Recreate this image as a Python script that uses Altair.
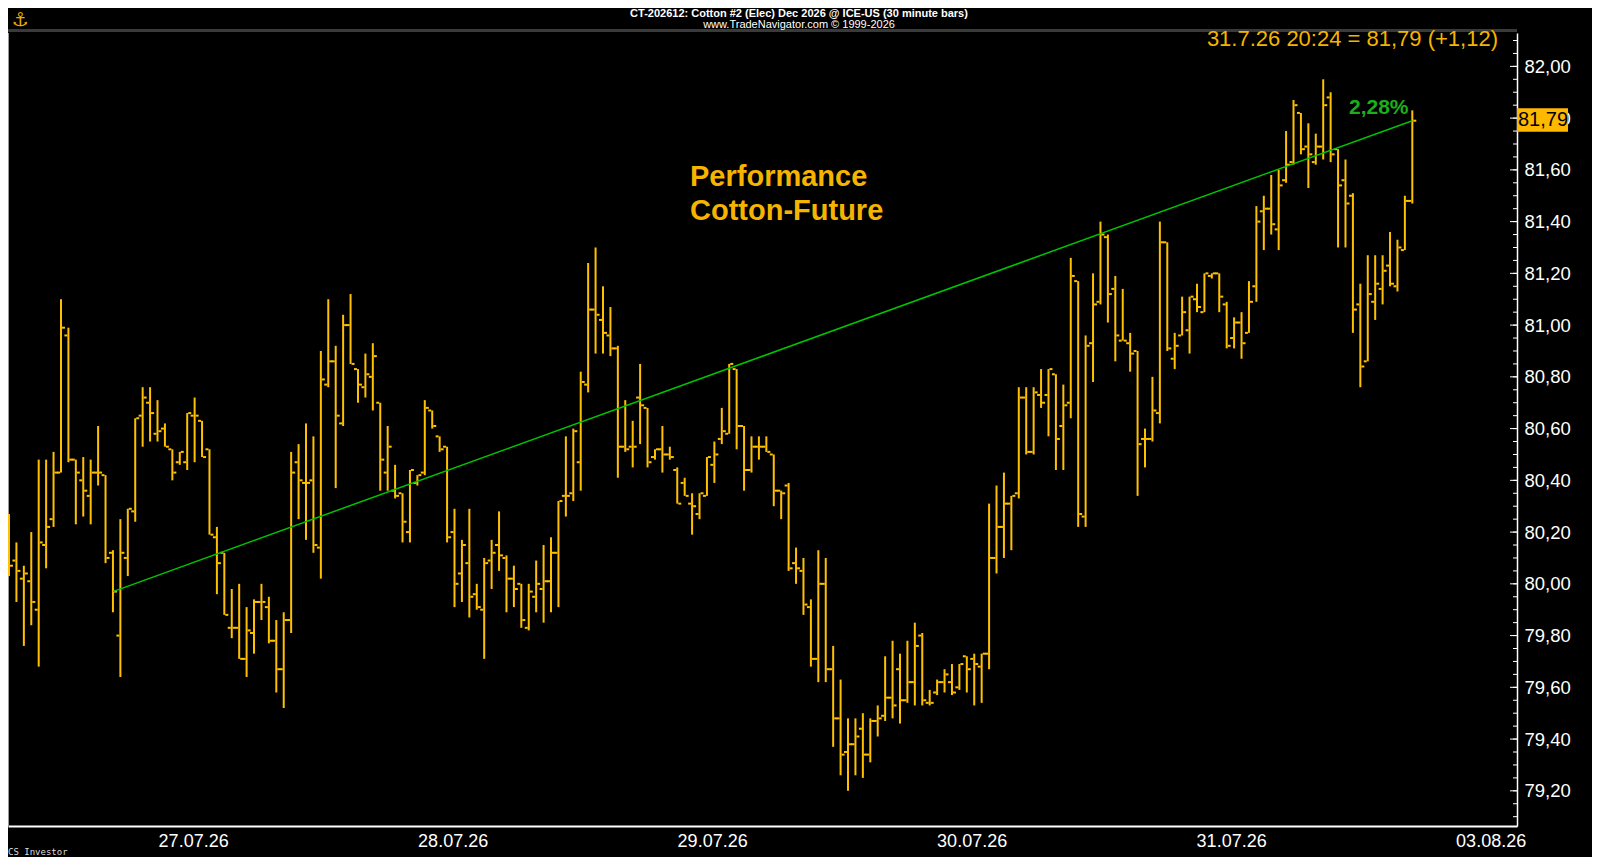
import json
import altair as alt
import pandas as pd

# ---------------- data ----------------
opens = [80.25, 80.09, 80.02, 80.01, 79.90, 80.15, 80.25, 80.43, 80.96, 80.48,
         80.40, 80.34, 80.43, 80.42, 80.12, 79.80, 80.10, 80.28, 80.65, 80.70,
         80.58, 80.60, 80.52, 80.47, 80.47, 80.65, 80.63, 80.52, 80.18, 80.12,
         79.83, 79.83, 79.71, 79.81, 79.93, 79.91, 79.78, 79.67, 79.86, 80.47,
         80.39, 80.40, 80.14, 80.77, 80.86, 80.62, 81.00, 80.83, 80.76, 80.80,
         80.70, 80.43, 80.36, 80.35, 80.20, 80.39, 80.43, 80.67, 80.57, 80.53,
         80.20, 80.04, 80.08, 79.96, 79.90, 80.09, 80.15, 80.10, 80.02, 80.00,
         79.83, 79.95, 79.98, 80.01, 80.12, 80.34, 80.35, 80.47, 80.77, 81.06,
         81.02, 80.96, 80.91, 80.53, 80.53, 80.72, 80.68, 80.49, 80.52, 80.50,
         80.44, 80.39, 80.31, 80.27, 80.34, 80.46, 80.56, 80.58, 80.83, 80.61,
         80.44, 80.53, 80.53, 80.50, 80.36, 80.38, 80.08, 80.05, 79.91, 79.71,
         80.00, 79.67, 79.48, 79.35, 79.38, 79.44, 79.34, 79.47, 79.49, 79.56,
         79.67, 79.55, 79.62, 79.80, 79.54, 79.58, 79.62, 79.62, 79.60, 79.72,
         79.71, 79.68, 79.73, 80.10, 80.22, 80.31, 80.35, 80.72, 80.51, 80.73,
         80.73, 80.81, 80.61, 80.70, 81.17, 80.26, 80.93, 81.09, 81.34, 81.14,
         80.94, 80.93, 80.90, 80.56, 80.56, 80.66, 81.32, 80.87, 80.96, 80.98,
         81.10, 81.05, 81.19, 81.20, 81.08, 80.95, 81.01, 80.97, 81.15, 81.44,
         81.45, 81.37, 81.56, 81.63, 81.82, 81.69, 81.63, 81.69, 81.88, 81.68,
         81.56, 81.50, 81.08, 80.86, 81.09, 81.14, 81.23, 81.15, 81.29, 81.48]
highs = [80.27, 80.16, 80.07, 80.20, 80.48, 80.48, 80.51, 81.10, 80.99, 80.48,
         80.49, 80.48, 80.61, 80.42, 80.13, 80.25, 80.29, 80.64, 80.76, 80.76,
         80.71, 80.62, 80.52, 80.51, 80.66, 80.72, 80.63, 80.52, 80.22, 80.12,
         79.98, 80.00, 79.91, 79.94, 80.00, 79.95, 79.86, 79.89, 80.51, 80.54,
         80.62, 80.57, 80.90, 81.10, 80.92, 81.04, 81.12, 80.83, 80.89, 80.93,
         80.70, 80.61, 80.46, 80.35, 80.44, 80.42, 80.71, 80.67, 80.57, 80.53,
         80.29, 80.17, 80.29, 80.00, 80.10, 80.17, 80.28, 80.11, 80.07, 80.00,
         80.00, 80.09, 80.15, 80.18, 80.32, 80.57, 80.60, 80.82, 81.24, 81.30,
         81.15, 81.07, 80.92, 80.71, 80.63, 80.85, 80.68, 80.52, 80.61, 80.53,
         80.45, 80.41, 80.35, 80.35, 80.49, 80.55, 80.68, 80.85, 80.83, 80.61,
         80.57, 80.57, 80.57, 80.50, 80.36, 80.39, 80.14, 80.10, 79.94, 80.13,
         80.10, 79.76, 79.63, 79.48, 79.48, 79.50, 79.48, 79.53, 79.72, 79.78,
         79.73, 79.78, 79.85, 79.81, 79.59, 79.63, 79.67, 79.69, 79.69, 79.72,
         79.73, 79.73, 80.31, 80.38, 80.43, 80.34, 80.76, 80.76, 80.76, 80.83,
         80.83, 80.81, 80.77, 81.26, 81.17, 80.96, 81.20, 81.40, 81.35, 81.19,
         81.14, 80.97, 80.90, 80.60, 80.80, 81.40, 81.32, 80.97, 81.11, 81.11,
         81.16, 81.20, 81.20, 81.20, 81.09, 81.03, 81.05, 81.17, 81.46, 81.50,
         81.58, 81.60, 81.75, 81.87, 81.82, 81.78, 81.74, 81.95, 81.90, 81.68,
         81.64, 81.51, 81.16, 81.27, 81.27, 81.27, 81.36, 81.33, 81.50, 81.83]
lows = [80.03, 79.93, 79.76, 79.84, 79.68, 80.06, 80.22, 80.43, 80.47, 80.23,
        80.26, 80.23, 80.38, 80.08, 79.89, 79.64, 80.03, 80.24, 80.53, 80.55,
        80.55, 80.53, 80.40, 80.46, 80.44, 80.47, 80.49, 80.19, 79.96, 79.88,
        79.79, 79.71, 79.64, 79.73, 79.86, 79.77, 79.58, 79.52, 79.81, 80.25,
        80.17, 80.12, 80.02, 80.76, 80.37, 80.61, 80.85, 80.70, 80.72, 80.67,
        80.36, 80.36, 80.33, 80.16, 80.16, 80.38, 80.42, 80.60, 80.51, 80.16,
        79.91, 79.93, 79.87, 79.90, 79.71, 79.98, 80.05, 79.89, 79.91, 79.83,
        79.82, 79.89, 79.85, 79.89, 79.91, 80.26, 80.32, 80.36, 80.74, 80.89,
        80.89, 80.88, 80.41, 80.51, 80.45, 80.54, 80.45, 80.48, 80.43, 80.48,
        80.31, 80.34, 80.19, 80.25, 80.34, 80.39, 80.54, 80.58, 80.52, 80.36,
        80.43, 80.48, 80.51, 80.30, 80.25, 80.05, 80.00, 79.88, 79.68, 79.62,
        79.62, 79.37, 79.26, 79.20, 79.26, 79.25, 79.31, 79.41, 79.47, 79.48,
        79.46, 79.54, 79.53, 79.53, 79.53, 79.57, 79.58, 79.57, 79.59, 79.58,
        79.53, 79.54, 79.67, 80.04, 80.10, 80.13, 80.33, 80.50, 80.50, 80.68,
        80.57, 80.44, 80.44, 80.64, 80.22, 80.22, 80.78, 81.08, 81.01, 80.86,
        80.94, 80.82, 80.34, 80.45, 80.55, 80.62, 80.90, 80.83, 80.96, 80.89,
        81.05, 81.05, 81.18, 81.05, 80.91, 80.91, 80.87, 80.97, 81.09, 81.29,
        81.35, 81.29, 81.55, 81.62, 81.66, 81.53, 81.62, 81.64, 81.63, 81.30,
        81.30, 80.97, 80.76, 80.86, 81.02, 81.08, 81.15, 81.13, 81.29, 81.47]
closes = [80.07, 80.05, 80.04, 79.93, 80.16, 80.22, 80.43, 80.99, 80.48, 80.43,
          80.36, 80.43, 80.43, 80.10, 79.97, 80.12, 80.29, 80.64, 80.72, 80.66,
          80.59, 80.53, 80.43, 80.51, 80.66, 80.65, 80.49, 80.19, 80.08, 79.88,
          79.83, 79.71, 79.82, 79.93, 79.93, 79.78, 79.67, 79.86, 80.43, 80.40,
          80.39, 80.15, 80.79, 80.86, 80.65, 81.00, 80.85, 80.77, 80.81, 80.88,
          80.48, 80.53, 80.34, 80.24, 80.44, 80.42, 80.68, 80.61, 80.52, 80.18,
          80.00, 80.15, 79.95, 79.91, 80.08, 80.12, 80.11, 80.02, 79.98, 79.86,
          79.97, 80.00, 80.01, 80.12, 80.32, 80.34, 80.59, 80.78, 81.06, 81.04,
          80.97, 80.91, 80.53, 80.52, 80.53, 80.69, 80.47, 80.52, 80.50, 80.49,
          80.31, 80.34, 80.30, 80.35, 80.49, 80.50, 80.59, 80.85, 80.61, 80.44,
          80.53, 80.53, 80.51, 80.36, 80.35, 80.06, 80.06, 79.92, 79.71, 80.00,
          79.67, 79.48, 79.34, 79.38, 79.41, 79.34, 79.47, 79.48, 79.56, 79.53,
          79.55, 79.62, 79.76, 79.55, 79.54, 79.62, 79.65, 79.58, 79.69, 79.67,
          79.69, 79.73, 80.10, 80.22, 80.31, 80.34, 80.72, 80.51, 80.74, 80.70,
          80.83, 80.56, 80.69, 81.19, 80.27, 80.92, 81.08, 81.35, 81.12, 80.96,
          80.94, 80.89, 80.54, 80.56, 80.67, 81.32, 80.91, 80.92, 81.05, 81.11,
          81.07, 81.20, 81.20, 81.11, 80.92, 81.01, 80.93, 81.09, 81.40, 81.45,
          81.39, 81.54, 81.62, 81.85, 81.68, 81.66, 81.69, 81.85, 81.66, 81.54,
          81.47, 81.06, 80.84, 81.12, 81.16, 81.21, 81.16, 81.30, 81.48, 81.79]

x_tick_pos = [24.8, 59.75, 94.7, 129.65, 164.6, 199.55]
x_tick_labels = ["27.07.26", "28.07.26", "29.07.26", "30.07.26", "31.07.26", "03.08.26"]
y_major = [79.2, 79.4, 79.6, 79.8, 80.0, 80.2, 80.4, 80.6, 80.8, 81.0, 81.2, 81.4, 81.6, 81.8, 82.0]
y_minor = [round(79.1 + 0.05 * k, 2) for k in range(61)]

perf_x = [14, 189]
perf_y = [79.97, 81.79]
prev_close = 80.67

title_1 = "CT-202612:  Cotton #2 (Elec) Dec 2026 @ ICE-US  (30 minute bars)"
title_2 = "www.TradeNavigator.com \u00a9 1999-2026"

# ---------------- styling ----------------
W, H = 1509, 793
BAR = "#FFC000"
GOLD = "#F4B400"
GREEN_LINE = "#00C400"
GREEN_TXT = "#1AB01A"
FONT = "Liberation Sans"

df = pd.DataFrame({"i": list(range(len(closes))), "o": opens, "h": highs, "l": lows, "c": closes})
df_perf = pd.DataFrame({"i": perf_x, "v": perf_y})
df_major = pd.DataFrame({"v": y_major})
df_minor = pd.DataFrame({"v": y_minor})
last_close = closes[-1]
df_last = pd.DataFrame({"c": [last_close]})
one = pd.DataFrame({"a": [0]})

def fmt(v):
    return f"{v:.2f}".replace(".", ",")

pct = (perf_y[1] / perf_y[0] - 1) * 100
header = f"31.7.26 20:24 = {fmt(last_close)} (+{fmt(last_close - prev_close)})"

x_scale = alt.Scale(domain=[-0.135, 203.1], nice=False, zero=False)
y_scale = alt.Scale(domain=[79.064, 82.129], nice=False, zero=False)

label_expr = (json.dumps(x_tick_labels).replace('"', "'")
              + f"[round((datum.value - {x_tick_pos[0]}) / {(x_tick_pos[-1] - x_tick_pos[0]) / (len(x_tick_pos) - 1)})]")

x_axis = alt.Axis(values=x_tick_pos, labelExpr=label_expr, title=None, grid=False,
                  domainColor="white", domainWidth=2, tickSize=0, labelColor="white",
                  labelFont=FONT, labelFontSize=18, labelPadding=6, labelFlush=False,
                  labelOverlap=False)
y_axis = alt.Axis(orient="right", values=y_major,
                  labelExpr="replace(format(datum.value, '.2f'), '.', ',')",
                  title=None, grid=False, domainColor="white", domainWidth=1.5, tickSize=0,
                  labelColor="white", labelFont=FONT, labelFontSize=18.5, labelPadding=7,
                  labelFlush=False, labelOverlap=False)

base = alt.Chart(df)
hl = base.mark_rule(color=BAR, strokeWidth=2).encode(
    x=alt.X("i:Q", scale=x_scale, axis=x_axis),
    y=alt.Y("l:Q", scale=y_scale, axis=y_axis),
    y2="h:Q",
)
op = base.mark_rule(color=BAR, strokeWidth=2, xOffset=-4, x2Offset=-1).encode(
    x="i:Q", x2="i:Q", y="o:Q")
cl = base.mark_rule(color=BAR, strokeWidth=2, xOffset=1, x2Offset=4).encode(
    x="i:Q", x2="i:Q", y="c:Q")

perf = alt.Chart(df_perf).mark_line(color=GREEN_LINE, strokeWidth=1.5).encode(x="i:Q", y="v:Q")

maj = alt.Chart(df_major).mark_rule(color="white", strokeWidth=1).encode(
    x=alt.value(W - 7), x2=alt.value(W), y="v:Q")
mnr = alt.Chart(df_minor).mark_rule(color="white", strokeWidth=1).encode(
    x=alt.value(W - 4), x2=alt.value(W), y="v:Q")

top_band = alt.Chart(one).mark_rule(color="#3a3a3a", strokeWidth=3).encode(
    x=alt.value(0), x2=alt.value(W), y=alt.value(-2.5))
left_border = alt.Chart(one).mark_rule(color="#9a9a9a", strokeWidth=1).encode(
    x=alt.value(0.5), y=alt.value(0), y2=alt.value(H))

def txt(text, x, y, size, color, weight="normal", align="left", font=FONT):
    return alt.Chart(one).mark_text(text=text, align=align, baseline="middle", fontSize=size,
                                    fontWeight=weight, color=color, font=font).encode(
        x=alt.value(x), y=alt.value(y))

t1 = txt(title_1, 791, -19, 11, "white", "bold", "center")
t2 = txt(title_2, 791, -8, 11, "white", "normal", "center")
hdr = txt(header, 1490, 6, 22, GOLD, "normal", "right")
p1 = txt("Performance", 682, 144, 29, GOLD, "bold")
p2 = txt("Cotton-Future", 682, 178, 29, GOLD, "bold")
pc = txt(f"{pct:.2f}".replace(".", ",") + "%", 1341, 75, 21, GREEN_TXT, "bold")
logo = txt("\u2693", 12, -13, 19, "#E8B000", "bold", "center", "DejaVu Sans")
cs = txt("CS Investor", 0, H + 26, 9, "#dddddd", "normal", "left", "DejaVu Sans Mono")

box = alt.Chart(df_last).mark_rect(color="#FFB800", yOffset=-12.5, y2Offset=11).encode(
    x=alt.value(W), x2=alt.value(W + 51), y="c:Q", y2="c:Q")
box_txt = alt.Chart(df_last).mark_text(align="left", baseline="middle", fontSize=20, font=FONT,
                                       color="black", yOffset=-1).encode(
    x=alt.value(W + 1), y="c:Q", text=alt.value(fmt(last_close)))

chart = alt.layer(
    top_band, left_border, mnr, maj, hl, op, cl, perf,
    t1, t2, hdr, p1, p2, pc, logo, cs, box, box_txt,
).properties(
    width=W, height=H,
    padding={"left": 0, "top": 25, "right": 75, "bottom": 31},
    autosize=alt.AutoSizeParams(type="none"),
    background="black",
).configure_view(strokeWidth=0)

chart.save("out.html", embed_options={"renderer": "svg", "actions": False})
